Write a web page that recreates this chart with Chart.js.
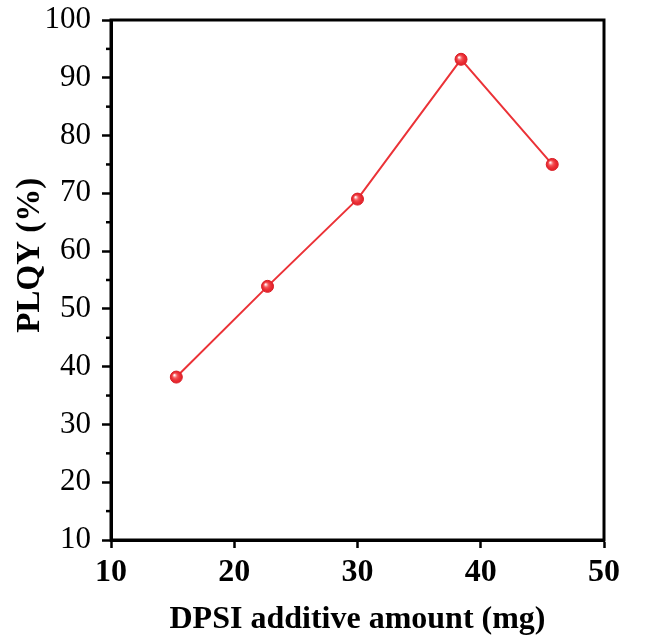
<!DOCTYPE html>
<html>
<head>
<meta charset="utf-8">
<script src="https://cdn.jsdelivr.net/npm/chart.js@4/dist/chart.umd.min.js"></script>
<style>
  body { margin: 0; background: #fff; }
  #wrap { width: 649px; height: 639px; }
</style>
</head>
<body>
<div id="wrap"><canvas id="charts" width="649" height="639"></canvas></div>
<script>
// values
const amounts = [15.3, 22.7, 30, 38.4, 45.8]
const plqy = [38.2, 53.9, 69.0, 93.2, 75.0]
const xTicks = [10, 20, 30, 40, 50]
const yTicks = [10, 20, 30, 40, 50, 60, 70, 80, 90, 100]
const yMinor = [15, 25, 35, 45, 55, 65, 75, 85, 95]

const serif = "'Liberation Serif', 'Times New Roman', serif"

// box around plot + minor ticks on the y axis
const frame = {
    id: 'frame',
    afterDraw(chart){
        let c = chart.ctx
        let a = chart.chartArea
        c.save()
        c.strokeStyle = '#000'
        c.lineWidth = 3
        c.strokeRect(a.left, a.top, a.right - a.left, a.bottom - a.top)
        let y = chart.scales.y
        c.lineWidth = 2.5
        for (const v of yMinor){
            let p = y.getPixelForValue(v)
            c.beginPath()
            c.moveTo(a.left, p)
            c.lineTo(a.left - 5, p)
            c.stroke()
        }
        c.restore()
    },
    afterDatasetsDraw(chart){
        // small shine on each sphere
        let c = chart.ctx
        let meta = chart.getDatasetMeta(0)
        c.save()
        for (const pt of meta.data){
            let g = c.createRadialGradient(pt.x - 2, pt.y - 2, 0.5, pt.x, pt.y, 6)
            g.addColorStop(0, 'rgba(255,255,255,0.95)')
            g.addColorStop(0.35, 'rgba(255,120,120,0.6)')
            g.addColorStop(1, 'rgba(220,20,30,0)')
            c.fillStyle = g
            c.beginPath()
            c.arc(pt.x, pt.y, 6, 0, Math.PI * 2)
            c.fill()
        }
        c.restore()
    }
}

let ctx = document.getElementById('charts').getContext('2d')
window.chart = new Chart(ctx, {
    type: 'scatter',
    data: {
        datasets: [
            {
                label: 'PLQY',
                data: amounts.map((x, i) => ({x: x, y: plqy[i]})),
                showLine: true,
                borderColor: 'rgb(235, 50, 55)',
                borderWidth: 2,
                backgroundColor: 'rgb(232, 38, 45)',
                pointBackgroundColor: 'rgb(232, 38, 45)',
                pointBorderColor: 'rgb(215, 30, 38)',
                pointBorderWidth: 1,
                pointRadius: 6,
                tension: 0
            }
        ]
    },
    options: {
        responsive: false,
        animation: false,
        layout: {
            padding: {top: 20, right: 45, left: 0, bottom: 0}
        },
        plugins: {
            legend: {display: false},
            tooltip: {enabled: false}
        },
        scales: {
            x: {
                type: 'linear',
                min: 10,
                max: 50,
                afterBuildTicks: (s) => { s.ticks = xTicks.map(v => ({value: v})) },
                afterFit: (s) => { s.height = 99; s.paddingLeft = 0; s.paddingRight = 0 },
                border: {display: true, color: '#000', width: 3},
                grid: {drawOnChartArea: false, drawTicks: true, tickLength: 8, tickWidth: 2.5, tickColor: '#000'},
                ticks: {
                    color: '#000',
                    padding: 6,
                    maxRotation: 0,
                    font: {family: serif, size: 32, weight: 'bold'}
                },
                title: {
                    display: true,
                    text: 'DPSI additive amount (mg)',
                    color: '#000',
                    padding: {top: 0, bottom: 0},
                    font: {family: serif, size: 32, weight: 'bold'}
                }
            },
            y: {
                type: 'linear',
                min: 10,
                max: 100,
                afterBuildTicks: (s) => { s.ticks = yTicks.map(v => ({value: v})) },
                afterFit: (s) => { s.width = 111; s.paddingTop = 0; s.paddingBottom = 0 },
                border: {display: true, color: '#000', width: 3},
                grid: {drawOnChartArea: false, drawTicks: true, tickLength: 9, tickWidth: 2.5, tickColor: '#000'},
                ticks: {
                    color: '#000',
                    padding: 11,
                    font: {family: serif, size: 31}
                },
                title: {
                    display: true,
                    // leading spaces push the label a bit up, like the original
                    text: '      PLQY (%)',
                    color: '#000',
                    padding: {top: 11, bottom: 0},
                    font: {family: serif, size: 33, weight: 'bold'}
                }
            }
        }
    },
    plugins: [frame]
})
</script>
</body>
</html>
